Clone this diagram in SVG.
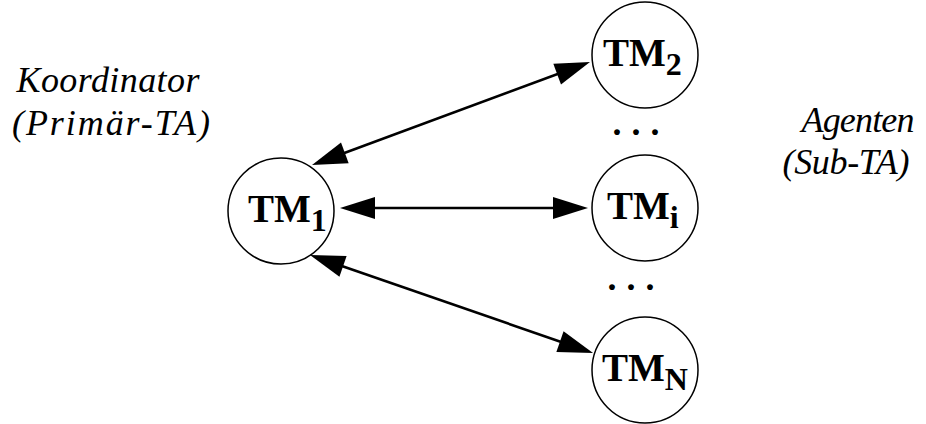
<svg xmlns="http://www.w3.org/2000/svg" width="926" height="424" viewBox="0 0 926 424">
  <style>
    .node { fill: #fff; stroke: #000; stroke-width: 1.5; }
    .lbl { font-family: "Liberation Serif", "Times New Roman", serif; font-weight: bold; font-size: 39px; fill: #000; }
    .sub { font-size: 32px; }
    .role { font-family: "Liberation Serif", "Times New Roman", serif; font-style: italic; font-size: 36px; fill: #000; }
    .link { fill: none; stroke: #000; stroke-width: 2.6; }
    .dots { font-family: "Liberation Serif", "Times New Roman", serif; font-weight: bold; font-size: 36px; letter-spacing: 10px; fill: #000; }
  </style>
  <defs>
    <marker id="head" markerUnits="userSpaceOnUse" markerWidth="40" markerHeight="26" viewBox="-36 -13 40 26" refX="-10" refY="0" orient="auto-start-reverse" overflow="visible">
      <path d="M0,0 L-35,-11 L-35,11 Z" fill="#000"/>
    </marker>
  </defs>

  <rect width="926" height="424" fill="#fff"/>

  <!-- role captions -->
  <text class="role" x="108" y="92" text-anchor="middle" textLength="183" lengthAdjust="spacing">Koordinator</text>
  <text class="role" x="111" y="135" text-anchor="middle" textLength="198" lengthAdjust="spacing">(Primär-TA)</text>
  <text class="role" x="858" y="132" text-anchor="middle" textLength="113" lengthAdjust="spacing">Agenten</text>
  <text class="role" x="846" y="174" text-anchor="middle" textLength="127" lengthAdjust="spacing">(Sub-TA)</text>

  <!-- connectors -->
  <g id="connectors">
    <path class="link" d="M321.4,161.5 L580.6,65.5" marker-start="url(#head)" marker-end="url(#head)"/>
    <path class="link" d="M350,208 L578,208" marker-start="url(#head)" marker-end="url(#head)"/>
    <path class="link" d="M319.4,258.3 L583.6,349.7" marker-start="url(#head)" marker-end="url(#head)"/>
  </g>

  <!-- coordinator -->
  <g id="tm1">
    <circle class="node" cx="281" cy="211" r="53"/>
    <text class="lbl" x="248" y="222">TM<tspan class="sub" dy="9">1</tspan></text>
  </g>

  <!-- agents -->
  <g id="tm2">
    <circle class="node" cx="645" cy="55" r="53"/>
    <text class="lbl" x="603" y="66">TM<tspan class="sub" dy="9">2</tspan></text>
  </g>
  <g id="tmi">
    <circle class="node" cx="645" cy="208" r="53"/>
    <text class="lbl" x="607" y="219">TM<tspan class="sub" dy="9">i</tspan></text>
  </g>
  <g id="tmn">
    <circle class="node" cx="645" cy="370" r="53"/>
    <text class="lbl" x="602" y="381">TM<tspan class="sub" dy="9">N</tspan></text>
  </g>

  <!-- ellipses between agents -->
  <text class="dots" x="612.5" y="134.5">...</text>
  <text class="dots" x="607.5" y="289.5">...</text>
</svg>
